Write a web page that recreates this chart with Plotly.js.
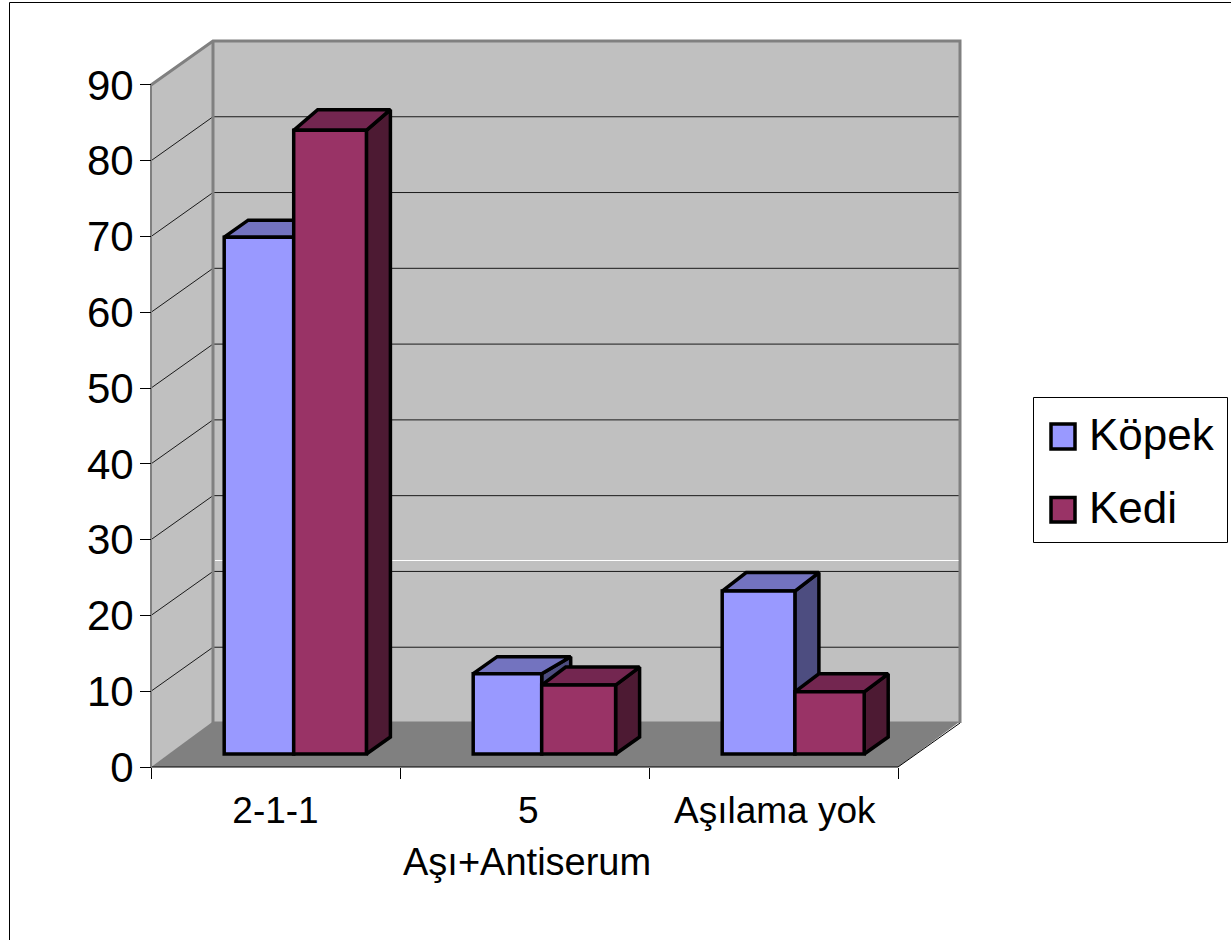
<!DOCTYPE html>
<html>
<head>
<meta charset="utf-8">
<script src="https://cdn.plot.ly/plotly-3.0.1.min.js"></script>
<style>html,body{margin:0;padding:0;background:#fff}#c{width:1231px;height:940px}</style>
</head>
<body>
<div id="c"></div>
<script>
const categories = ["2-1-1", "5", "Aşılama yok"];
const kopek = [68.2, 10.6, 21.5];
const kedi = [82.3, 9.1, 8.2];
const yTicks = [0, 10, 20, 30, 40, 50, 60, 70, 80, 90];
const xTitle = "Aşı+Antiserum";
const seriesNames = ["Köpek", "Kedi"];

const W = 1231, H = 940;
const x0 = 151, y0 = 767, pxX = 249, pxY = 7.578;
const FONT = "Liberation Sans, Arial, sans-serif";
const wallDx = 62 / pxX, wallDy = 44 / pxY, floorDy = 45.5 / pxY;
const barDx = 24 / pxX;
const barStart = 73.2 / pxX, barBase = 13 / pxY;
// drawn widths and top depths of the reference's bars vary a little from group to group
const kopekWidthPx = [69.5, 68.5, 72.7];
const kediWidthPx = [72.7, 73.9, 69.3];
const kopekDepthPx = [17, 17, 18.5];
const kediDepthPx = [20.7, 18, 18];
const kopekBackExtraPx = [0, 5, 0];
const kediBackExtraPx = [0, 0, 0];
const labelPos = [0.5, 1.515, 2.505];
const n = categories.length, yMax = yTicks[yTicks.length - 1];

function px(x) { return x / W; }
function py(y) { return 1 - y / H; }
function poly(pts, close) {
  return pts.map((p, i) => (i ? "L" : "M") + p[0] + "," + p[1]).join(" ") + (close ? " Z" : "");
}
function dataPoly(pts, fill) {
  return { type: "path", xref: "x", yref: "y", layer: "below", path: poly(pts, true), fillcolor: fill, line: { width: 0 } };
}
function dataLine(pts, color, width) {
  return { type: "path", xref: "x", yref: "y", layer: "below", path: poly(pts, false), line: { color: color, width: width } };
}

const shapes = [
  dataPoly([[0, 0], [0, yMax], [wallDx, yMax + wallDy], [wallDx, wallDy]], "#c0c0c0"),
  dataPoly([[wallDx, wallDy], [wallDx, yMax + wallDy], [n + wallDx, yMax + wallDy], [n + wallDx, wallDy]], "#c0c0c0"),
  dataPoly([[0, 0], [n, 0], [n + wallDx, floorDy], [wallDx, floorDy]], "#808080")
];
yTicks.slice(1, -1).forEach(v => {
  shapes.push(dataLine([[0, v], [wallDx, v + wallDy], [n + wallDx, v + wallDy]], "#1a1a1a", 1));
});
shapes.push(dataLine([[0, 0], [n, 0], [n + wallDx, wallDy]], "#000000", 1));
shapes.push(dataLine([[0, 0], [0, yMax]], "#808080", 2));
shapes.push(dataLine([[wallDx, wallDy], [wallDx, yMax + wallDy]], "#808080", 3));
shapes.push(dataLine([[0, yMax], [wallDx, yMax + wallDy], [n + wallDx, yMax + wallDy], [n + wallDx, wallDy]], "#808080", 3));
// pale line across the back wall
const paleY = (y0 - 560.5) / pxY;
shapes.push(dataLine([[wallDx + 0.008, paleY], [n + wallDx - 0.006, paleY]], "#ffffff", 1));
// page frame and legend box
shapes.push({ type: "path", xref: "paper", yref: "paper", path: `M${px(W)},${py(2.5)} L${px(9.5)},${py(2.5)} L${px(9.5)},${py(H)}`, line: { color: "#000000", width: 1 } });
shapes.push({ type: "rect", xref: "paper", yref: "paper", x0: px(1033.5), x1: px(1227.5), y0: py(397.5), y1: py(542.5), fillcolor: "#ffffff", line: { color: "#000000", width: 1 } });
shapes.push({ type: "rect", xref: "paper", yref: "paper", x0: px(1051), x1: px(1075), y0: py(424), y1: py(449), fillcolor: "#9999ff", line: { color: "#000000", width: 3.5 } });
shapes.push({ type: "rect", xref: "paper", yref: "paper", x0: px(1051), x1: px(1075), y0: py(497.5), y1: py(522), fillcolor: "#993366", line: { color: "#000000", width: 3.5 } });

const kopekLeft = categories.map((c, i) => i + barStart);
const kediLeft = categories.map((c, i) => i + barStart + kopekWidthPx[i] / pxX);

function faceTrace(values, lefts, widthsPx, depthsPx, extraPx, kind, fill, z) {
  const xs = [], ys = [];
  values.forEach((v, i) => {
    const xl = lefts[i], xr = xl + widthsPx[i] / pxX, top = barBase + v, d = depthsPx[i] / pxY, d0 = 17 / pxY;
    const xb = xr + barDx + extraPx[i] / pxX;
    const pts = kind === "top"
      ? [[xl, top], [xl + barDx, top + d], [xb, top + d], [xr, top], [xl, top]]
      : [[xr, barBase], [xb, barBase + d0], [xb, top + d], [xr, top], [xr, barBase]];
    pts.forEach(p => { xs.push(p[0]); ys.push(p[1]); });
    xs.push(null); ys.push(null);
  });
  return { type: "scatter", mode: "lines", x: xs, y: ys, fill: "toself", fillcolor: fill,
    line: { color: "#000000", width: 3.5 }, hoverinfo: "skip", showlegend: false, zorder: z };
}
function barTrace(values, lefts, widthsPx, name, fill, z) {
  return { type: "bar", name: name, x: values.map((v, i) => lefts[i] + widthsPx[i] / pxX / 2), y: values,
    base: values.map(() => barBase), width: widthsPx.map(w => w / pxX),
    marker: { color: fill, line: { color: "#000000", width: 3.5 } }, showlegend: false, zorder: z };
}

const data = [
  faceTrace(kopek, kopekLeft, kopekWidthPx, kopekDepthPx, kopekBackExtraPx, "side", "#4d4d80", 1),
  faceTrace(kopek, kopekLeft, kopekWidthPx, kopekDepthPx, kopekBackExtraPx, "top", "#7373bf", 1),
  barTrace(kopek, kopekLeft, kopekWidthPx, seriesNames[0], "#9999ff", 2),
  faceTrace(kedi, kediLeft, kediWidthPx, kediDepthPx, kediBackExtraPx, "side", "#4d1a33", 3),
  faceTrace(kedi, kediLeft, kediWidthPx, kediDepthPx, kediBackExtraPx, "top", "#732650", 3),
  barTrace(kedi, kediLeft, kediWidthPx, seriesNames[1], "#993366", 4)
];

const layout = {
  width: W, height: H, margin: { l: 0, r: 0, t: 0, b: 0 }, paper_bgcolor: "#ffffff", plot_bgcolor: "rgba(0,0,0,0)",
  barmode: "overlay", showlegend: false, font: { family: FONT, color: "#000000" },
  xaxis: {
    range: [-x0 / pxX, (W - x0) / pxX], domain: [0, 1], anchor: "free", position: py(y0), fixedrange: true,
    showgrid: false, zeroline: false, showline: false,
    tickmode: "array", tickvals: labelPos, ticktext: categories,
    ticks: "outside", ticklen: 11, tickcolor: "rgba(0,0,0,0)", tickfont: { family: FONT, size: 37, color: "#000000" },
    minor: { tickmode: "array", tickvals: categories.map((c, i) => i).concat([n]), ticks: "outside", ticklen: 11, tickwidth: 1, tickcolor: "#000000", showgrid: false }
  },
  yaxis: {
    range: [(y0 - H) / pxY, y0 / pxY], domain: [0, 1], anchor: "free", position: px(x0), fixedrange: true,
    showgrid: false, zeroline: false, showline: false,
    tickmode: "array", tickvals: yTicks, ticks: "outside", ticklen: 11, tickwidth: 1, tickcolor: "#000000",
    ticklabelstandoff: -2, tickfont: { family: FONT, size: 42, color: "#000000" }
  },
  shapes: shapes,
  annotations: [
    { xref: "x", yref: "paper", x: 1.512, y: py(862), text: xTitle, showarrow: false, xanchor: "center", yanchor: "middle", font: { family: FONT, size: 38, color: "#000000" } },
    { xref: "paper", yref: "paper", x: px(1087), y: py(434), text: seriesNames[0], showarrow: false, xanchor: "left", yanchor: "middle", font: { family: FONT, size: 44, color: "#000000" } },
    { xref: "paper", yref: "paper", x: px(1087), y: py(507), text: seriesNames[1], showarrow: false, xanchor: "left", yanchor: "middle", font: { family: FONT, size: 44, color: "#000000" } }
  ]
};
Plotly.newPlot("c", data, layout, { displayModeBar: false, staticPlot: true });
</script>
</body>
</html>
